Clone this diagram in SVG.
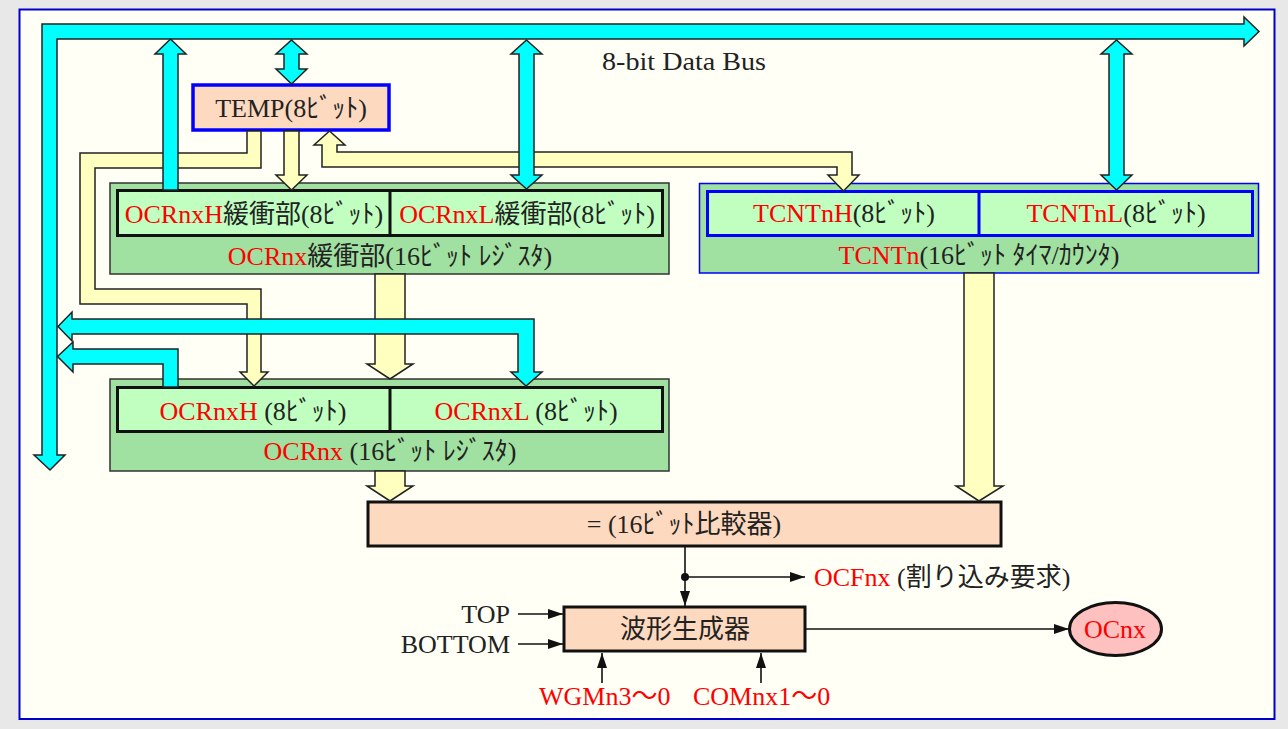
<svg xmlns="http://www.w3.org/2000/svg" width="1288" height="729" viewBox="0 0 1288 729">
<style>
.t{font-family:"Liberation Serif","Noto Sans CJK JP",serif;font-size:26px;fill:#222}
.r{fill:#ff0000}
.mid{text-anchor:middle}
.cy{fill:#00ffff;stroke:#222;stroke-width:1.5;stroke-linejoin:miter}
.ye{fill:#ffffc0;stroke:#222;stroke-width:1.5;stroke-linejoin:miter}
.outerG{fill:#a0e0a0;stroke:#333;stroke-width:1.5}
.innerG{fill:#c0ffc0;stroke:#111;stroke-width:3}
.peach{fill:#fdd9bf;stroke:#111;stroke-width:3}
.ln{stroke:#111;stroke-width:1.6;fill:none}
</style>
<defs>
<marker id="ah" markerUnits="userSpaceOnUse" markerWidth="15" markerHeight="10" viewBox="0 0 15 10" refX="15" refY="5" orient="auto">
<path d="M0,0 L15,5 L0,10 Z" fill="#111"/>
</marker>
</defs>
<rect x="0" y="0" width="1288" height="729" fill="#e8e8e8"/>
<rect x="19.5" y="9.5" width="1255" height="709.5" fill="#fffff6" stroke="#0000cc" stroke-width="2"/>

<g id="temp">
<rect x="193" y="85" width="196" height="45" fill="#fdd9bf" stroke="#0000ff" stroke-width="3.5"/>
<text class="t mid" x="291" y="117">TEMP(8ﾋﾞｯﾄ)</text>
</g>

<g id="ocr-buffer">
<rect class="outerG" x="110" y="183" width="559" height="91"/>
<rect class="innerG" x="117.5" y="190.5" width="545" height="45"/>
<line x1="390" y1="190" x2="390" y2="236" stroke="#111" stroke-width="3"/>
<text class="t mid" x="254" y="223"><tspan class="r">OCRnxH</tspan>緩衝部(8ﾋﾞｯﾄ)</text>
<text class="t mid" x="527" y="223"><tspan class="r">OCRnxL</tspan>緩衝部(8ﾋﾞｯﾄ)</text>
<text class="t mid" x="390" y="265"><tspan class="r">OCRnx</tspan>緩衝部(16ﾋﾞｯﾄ ﾚｼﾞｽﾀ)</text>
</g>

<g id="tcnt">
<rect x="699.5" y="183.5" width="559" height="89.5" fill="#a0e0a0" stroke="#0000ff" stroke-width="1.5"/>
<rect x="707.5" y="191.5" width="545" height="44" fill="#c0ffc0" stroke="#0000ff" stroke-width="3"/>
<line x1="979" y1="191" x2="979" y2="236" stroke="#0000ff" stroke-width="3"/>
<text class="t mid" x="844" y="222"><tspan class="r">TCNTnH</tspan>(8ﾋﾞｯﾄ)</text>
<text class="t mid" x="1116" y="222"><tspan class="r">TCNTnL</tspan>(8ﾋﾞｯﾄ)</text>
<text class="t mid" x="979" y="264"><tspan class="r">TCNTn</tspan>(16ﾋﾞｯﾄ ﾀｲﾏ/ｶｳﾝﾀ)</text>
</g>

<g id="ocr">
<rect class="outerG" x="110" y="379" width="559" height="92"/>
<rect class="innerG" x="117.5" y="387.5" width="545" height="44"/>
<line x1="390" y1="387" x2="390" y2="432" stroke="#111" stroke-width="3"/>
<text class="t mid" x="253" y="420"><tspan class="r">OCRnxH</tspan> (8ﾋﾞｯﾄ)</text>
<text class="t mid" x="526" y="420"><tspan class="r">OCRnxL</tspan> (8ﾋﾞｯﾄ)</text>
<text class="t mid" x="390" y="460"><tspan class="r">OCRnx</tspan> (16ﾋﾞｯﾄ ﾚｼﾞｽﾀ)</text>
</g>

<g id="comparator">
<rect class="peach" x="368" y="502" width="633" height="44"/>
<text class="t mid" x="684" y="533">= (16ﾋﾞｯﾄ比較器)</text>
</g>

<g id="wavegen">
<rect class="peach" x="564" y="607" width="241" height="44"/>
<text class="t mid" x="685" y="638">波形生成器</text>
</g>

<g id="ocnx">
<ellipse cx="1115.5" cy="629" rx="46" ry="26.5" fill="#ffc0c0" stroke="#111" stroke-width="3"/>
<text class="t mid r" x="1115" y="638">OCnx</text>
</g>

<g id="labels">
<text class="t" x="602" y="70" textLength="164" lengthAdjust="spacingAndGlyphs">8-bit Data Bus</text>
<text class="t" x="814" y="586"><tspan class="r">OCFnx</tspan> (割り込み要求)</text>
<text class="t" x="510" y="623" text-anchor="end">TOP</text>
<text class="t" x="510" y="653" text-anchor="end">BOTTOM</text>
<text class="t r" x="539" y="705">WGMn3～0</text>
<text class="t r" x="693" y="705">COMnx1～0</text>
</g>

<g id="connectors">
<!-- yellow wide arrows -->
<polygon class="ye" points="247,131 261,131 261,168 95,168 95,289 261,289 261,372 268,372 254,386 240,372 247,372 247,304 80,304 80,153 247,153"/>
<polygon class="ye" points="284,131 299,131 299,175 307,175 291.5,190 276,175 284,175"/>
<polygon class="ye" points="329.5,131 345,145 337,145 337,152 852,152 852,175 859,175 843.5,191 828,175 837,175 837,167 322,167 322,145 314,145"/>
<polygon class="ye" points="375,274 405,274 405,364 413,364 390,379 367,364 375,364"/>
<polygon class="ye" points="375,471 405,471 405,486 413,486 390,501 367,486 375,486"/>
<polygon class="ye" points="964,273 994,273 994,486 1003,486 979,501 956,486 964,486"/>
<!-- cyan bus arrows -->
<path class="cy" d="M50,470 L34,455 L42,455 L42,24 L1244,24 L1244,17 L1259,31.5 L1244,46 L1244,39 L57,39 L57,455 L65,455 Z"/>
<polygon class="cy" points="163,190 163,54 155,54 170.5,39 186,54 178,54 178,190"/>
<polygon class="cy" points="291.5,40 307,54 299,54 299,69 307,69 291.5,84 276,69 284,69 284,54 276,54"/>
<polygon class="cy" points="526.5,40 542,54 534,54 534,175 542,175 526.5,189 511,175 519,175 519,54 511,54"/>
<polygon class="cy" points="1116.5,40 1132,54 1124,54 1124,175 1132,175 1116.5,190 1101,175 1109,175 1109,54 1101,54"/>
<polygon class="cy" points="58,326.5 72,312 72,319 534,319 534,372 542,372 526,386 511,372 518,372 518,334 72,334 72,341"/>
<polygon class="cy" points="57.5,356.5 73,342 73,349 178,349 178,387 163,387 163,364 73,364 73,372"/>
<!-- thin signal lines -->
<line class="ln" x1="685" y1="547" x2="685" y2="606" marker-end="url(#ah)"/>
<circle cx="685" cy="577" r="4" fill="#111"/>
<line class="ln" x1="685" y1="577" x2="805" y2="577" marker-end="url(#ah)"/>
<line class="ln" x1="518" y1="614" x2="563" y2="614" marker-end="url(#ah)"/>
<line class="ln" x1="518" y1="644" x2="563" y2="644" marker-end="url(#ah)"/>
<line class="ln" x1="602" y1="683" x2="602" y2="653" marker-end="url(#ah)"/>
<line class="ln" x1="761" y1="683" x2="761" y2="653" marker-end="url(#ah)"/>
<line class="ln" x1="806" y1="629" x2="1069" y2="629" marker-end="url(#ah)"/>
</g>
</svg>
